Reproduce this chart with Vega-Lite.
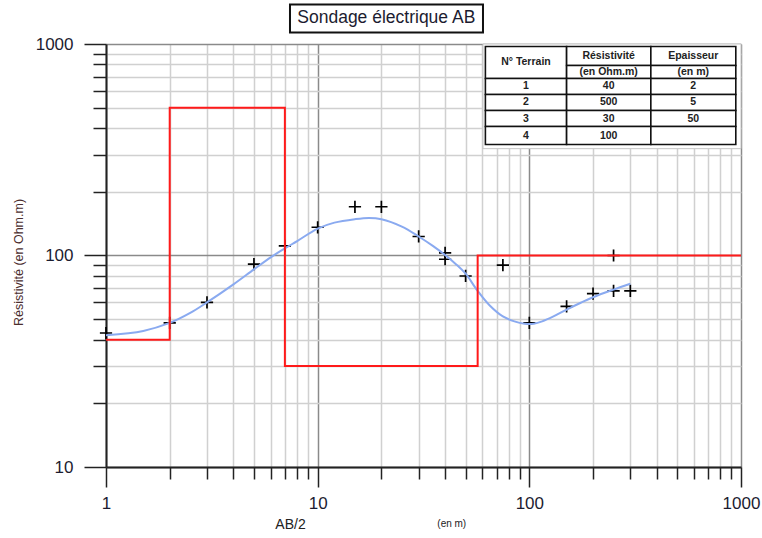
{
  "$schema": "https://vega.github.io/schema/vega-lite/v6.json",
  "width": 635,
  "height": 423,
  "autosize": {"type": "none"},
  "padding": {"left": 106, "top": 44, "right": 21, "bottom": 71},
  "background": "white",
  "config": {"view": {"stroke": null}, "font": "Liberation Sans"},
  "datasets": {
    "obs": [
      {"ab": 1, "rho": 43}, {"ab": 2, "rho": 48}, {"ab": 3, "rho": 60}, {"ab": 5, "rho": 91},
      {"ab": 7, "rho": 111}, {"ab": 10, "rho": 136}, {"ab": 15, "rho": 170}, {"ab": 20, "rho": 170},
      {"ab": 30, "rho": 123}, {"ab": 40, "rho": 103}, {"ab": 40, "rho": 96}, {"ab": 50, "rho": 80},
      {"ab": 75, "rho": 90}, {"ab": 100, "rho": 48}, {"ab": 150, "rho": 57.5}, {"ab": 200, "rho": 66},
      {"ab": 250, "rho": 68}, {"ab": 250, "rho": 100}, {"ab": 300, "rho": 68}
    ],
    "fit": [
      {"ab": 1, "rho": 42}, {"ab": 1.5, "rho": 44}, {"ab": 2, "rho": 48}, {"ab": 2.5, "rho": 53.5},
      {"ab": 3, "rho": 60}, {"ab": 4, "rho": 73}, {"ab": 5, "rho": 86}, {"ab": 6, "rho": 98},
      {"ab": 7, "rho": 108}, {"ab": 8, "rho": 117}, {"ab": 10, "rho": 134}, {"ab": 12, "rho": 143},
      {"ab": 15, "rho": 148.5}, {"ab": 17.5, "rho": 150.5}, {"ab": 20, "rho": 148.5}, {"ab": 25, "rho": 137},
      {"ab": 30, "rho": 123}, {"ab": 35, "rho": 111}, {"ab": 40, "rho": 100.5}, {"ab": 45, "rho": 91},
      {"ab": 50, "rho": 82}, {"ab": 57, "rho": 68}, {"ab": 65, "rho": 58}, {"ab": 75, "rho": 51.5},
      {"ab": 85, "rho": 48.8}, {"ab": 95, "rho": 47.6}, {"ab": 105, "rho": 47.6}, {"ab": 115, "rho": 48.8},
      {"ab": 130, "rho": 51.5}, {"ab": 150, "rho": 55.5}, {"ab": 175, "rho": 59.8}, {"ab": 200, "rho": 63.5},
      {"ab": 250, "rho": 69}, {"ab": 300, "rho": 73.5}
    ],
    "model": [
      {"i": 0, "ab": 1, "rho": 40}, {"i": 1, "ab": 2, "rho": 40}, {"i": 2, "ab": 2, "rho": 500},
      {"i": 3, "ab": 7, "rho": 500}, {"i": 4, "ab": 7, "rho": 30}, {"i": 5, "ab": 57, "rho": 30},
      {"i": 6, "ab": 57, "rho": 100}, {"i": 7, "ab": 1000, "rho": 100}
    ],
    "frame": [
      {"x1": 60.4, "x2": 1000, "y1": 320, "y2": 1000}
    ],
    "cells": [
      {"x1": 62, "x2": 150, "y1": 687, "y2": 973, "label": "N° Terrain", "tx": 96.4, "ty": 818},
      {"x1": 150, "x2": 375, "y1": 791, "y2": 973, "label": "Résistivité", "tx": 237, "ty": 877},
      {"x1": 150, "x2": 375, "y1": 687, "y2": 791, "label": "(en Ohm.m)", "tx": 237, "ty": 737},
      {"x1": 375, "x2": 945, "y1": 791, "y2": 973, "label": "Epaisseur", "tx": 595, "ty": 877},
      {"x1": 375, "x2": 945, "y1": 687, "y2": 791, "label": "(en m)", "tx": 595, "ty": 737},
      {"x1": 62, "x2": 150, "y1": 577, "y2": 687, "label": "1", "tx": 96.4, "ty": 630},
      {"x1": 150, "x2": 375, "y1": 577, "y2": 687, "label": "40", "tx": 237, "ty": 630},
      {"x1": 375, "x2": 945, "y1": 577, "y2": 687, "label": "2", "tx": 595, "ty": 630},
      {"x1": 62, "x2": 150, "y1": 485, "y2": 577, "label": "2", "tx": 96.4, "ty": 529},
      {"x1": 150, "x2": 375, "y1": 485, "y2": 577, "label": "500", "tx": 237, "ty": 529},
      {"x1": 375, "x2": 945, "y1": 485, "y2": 577, "label": "5", "tx": 595, "ty": 529},
      {"x1": 62, "x2": 150, "y1": 407, "y2": 485, "label": "3", "tx": 96.4, "ty": 444},
      {"x1": 150, "x2": 375, "y1": 407, "y2": 485, "label": "30", "tx": 237, "ty": 444},
      {"x1": 375, "x2": 945, "y1": 407, "y2": 485, "label": "50", "tx": 595, "ty": 444},
      {"x1": 62, "x2": 150, "y1": 335, "y2": 407, "label": "4", "tx": 96.4, "ty": 369},
      {"x1": 150, "x2": 375, "y1": 335, "y2": 407, "label": "100", "tx": 237, "ty": 369},
      {"x1": 375, "x2": 945, "y1": 335, "y2": 407, "label": "", "tx": 595, "ty": 369}
    ],
    "titlebox": [
      {"x1": 7.4, "x2": 60.4, "y1": 1133, "y2": 1538, "label": "Sondage électrique AB", "tx": 21.1, "ty": 1320}
    ],
    "unit": [
      {"label": "(en m)", "tx": 43, "ty": 5.35}
    ]
  },
  "layer": [
    {
      "data": {"name": "obs"},
      "mark": {"type": "point", "shape": "M-1,0L1,0M0,-1L0,1", "filled": false, "stroke": "#000", "strokeWidth": 1.7, "size": 150, "opacity": 1},
      "encoding": {
        "x": {
          "field": "ab", "type": "quantitative",
          "scale": {"type": "log", "domain": [1, 1000], "nice": false},
          "axis": {
            "values": [1,2,3,4,5,6,7,8,9,10,20,30,40,50,60,70,80,90,100,200,300,400,500,600,700,800,900,1000],
            "labelExpr": "indexof([1,10,100,1000], datum.value) >= 0 ? format(datum.value, 'd') : ''",
            "labelOverlap": false, "labelFlush": false, "labelBound": false,
            "labelFontSize": 17, "labelColor": "#1c1c30", "labelPadding": 8,
            "grid": true,
            "gridColor": {"condition": {"test": "indexof([1,10,100,1000], datum.value) >= 0", "value": "#8a8a8a"}, "value": "#d0d0d0"},
            "gridWidth": 1.5,
            "tickSize": {"condition": {"test": "indexof([1,10,100,1000], datum.value) >= 0", "value": 20}, "value": 12},
            "tickColor": "#222", "tickWidth": 1.5,
            "domainColor": "#222", "domainWidth": 2,
            "title": "AB/2", "titleFontSize": 14, "titleFontWeight": "normal", "titleColor": "#222",
            "titleX": 184, "titleY": 61, "titleAlign": "center", "titleBaseline": "alphabetic"
          }
        },
        "y": {
          "field": "rho", "type": "quantitative",
          "scale": {"type": "log", "domain": [10, 1000], "nice": false},
          "axis": {
            "values": [10,20,30,40,50,60,70,80,90,100,200,300,400,500,600,700,800,900,1000],
            "labelExpr": "indexof([10,100,1000], datum.value) >= 0 ? format(datum.value, 'd') : ''",
            "labelOverlap": false, "labelFlush": false, "labelBound": false,
            "labelFontSize": 17, "labelColor": "#1c1c30", "labelPadding": 11,
            "grid": true,
            "gridColor": {"condition": {"test": "indexof([10,100,1000], datum.value) >= 0", "value": "#8a8a8a"}, "value": "#d0d0d0"},
            "gridWidth": 1.5,
            "tickSize": {"condition": {"test": "indexof([10,100,1000], datum.value) >= 0", "value": 22}, "value": 13},
            "tickColor": "#222", "tickWidth": 1.5,
            "domainColor": "#222", "domainWidth": 2,
            "title": "Résistivité (en Ohm.m)", "titleFontSize": 12.5, "titleFontWeight": "normal", "titleColor": "#4b2e2e",
            "titleX": -88, "titleY": 218, "titleAlign": "center", "titleBaseline": "middle", "titleAngle": -90
          }
        }
      }
    },
    {
      "data": {"name": "fit"},
      "mark": {"type": "line", "color": "#8aaaf0", "strokeWidth": 2, "interpolate": "catmull-rom"},
      "encoding": {
        "x": {"field": "ab", "type": "quantitative"},
        "y": {"field": "rho", "type": "quantitative"}
      }
    },
    {
      "data": {"name": "model"},
      "mark": {"type": "line", "color": "#ff1a1a", "strokeWidth": 2},
      "encoding": {
        "x": {"field": "ab", "type": "quantitative"},
        "y": {"field": "rho", "type": "quantitative"},
        "order": {"field": "i", "type": "quantitative"}
      }
    },
    {
      "data": {"name": "frame"},
      "mark": {"type": "rect", "fill": "white", "stroke": "#c4c4c4", "strokeWidth": 1},
      "encoding": {
        "x": {"field": "x1", "type": "quantitative"},
        "x2": {"field": "x2"},
        "y": {"field": "y1", "type": "quantitative"},
        "y2": {"field": "y2"}
      }
    },
    {
      "data": {"name": "cells"},
      "mark": {"type": "rect", "fill": "white", "stroke": "#111", "strokeWidth": 1.6},
      "encoding": {
        "x": {"field": "x1", "type": "quantitative"},
        "x2": {"field": "x2"},
        "y": {"field": "y1", "type": "quantitative"},
        "y2": {"field": "y2"}
      }
    },
    {
      "data": {"name": "cells"},
      "mark": {"type": "text", "fontSize": 10.5, "font": "Liberation Sans", "fontWeight": "bold", "color": "#222", "align": "center", "baseline": "middle"},
      "encoding": {
        "x": {"field": "tx", "type": "quantitative"},
        "y": {"field": "ty", "type": "quantitative"},
        "text": {"field": "label"}
      }
    },
    {
      "data": {"name": "titlebox"},
      "mark": {"type": "rect", "fill": "white", "stroke": "#111", "strokeWidth": 2},
      "encoding": {
        "x": {"field": "x1", "type": "quantitative"},
        "x2": {"field": "x2"},
        "y": {"field": "y1", "type": "quantitative"},
        "y2": {"field": "y2"}
      }
    },
    {
      "data": {"name": "titlebox"},
      "mark": {"type": "text", "fontSize": 17.5, "font": "Liberation Sans", "color": "#1c1c30", "align": "center", "baseline": "middle"},
      "encoding": {
        "x": {"field": "tx", "type": "quantitative"},
        "y": {"field": "ty", "type": "quantitative"},
        "text": {"field": "label"}
      }
    },
    {
      "data": {"name": "unit"},
      "mark": {"type": "text", "fontSize": 10, "font": "Liberation Sans", "color": "#222", "align": "center", "baseline": "middle"},
      "encoding": {
        "x": {"field": "tx", "type": "quantitative"},
        "y": {"field": "ty", "type": "quantitative"},
        "text": {"field": "label"}
      }
    }
  ]
}
